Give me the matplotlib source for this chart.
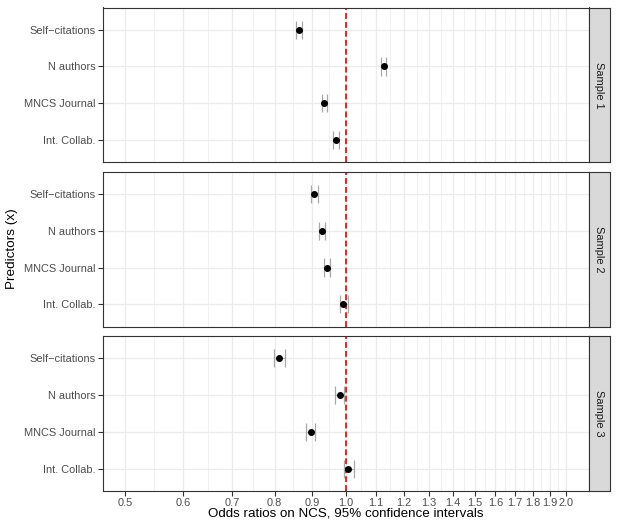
import matplotlib
matplotlib.use("Agg")
import matplotlib.pyplot as plt
import numpy as np
from matplotlib.ticker import NullFormatter

plt.rcParams["font.family"] = ["Liberation Sans", "DejaVu Sans"]

# ---- data (odds ratios with 95% CI) ----
predictors = ["Self\u2212citations", "N authors", "MNCS Journal", "Int. Collab."]
samples = ["Sample 1", "Sample 2", "Sample 3"]

or_s1 = [0.863, 1.126, 0.935, 0.970]
lo_s1 = [0.855, 1.117, 0.927, 0.962]
hi_s1 = [0.872, 1.136, 0.943, 0.980]

or_s2 = [0.906, 0.927, 0.943, 0.992]
lo_s2 = [0.897, 0.918, 0.933, 0.983]
hi_s2 = [0.916, 0.937, 0.952, 1.008]

or_s3 = [0.811, 0.981, 0.896, 1.008]
lo_s3 = [0.798, 0.967, 0.883, 0.993]
hi_s3 = [0.825, 0.995, 0.909, 1.025]

x_breaks = [0.5, 0.6, 0.7, 0.8, 0.9, 1.0, 1.1, 1.2, 1.3, 1.4, 1.5,
            1.6, 1.7, 1.8, 1.9, 2.0]
x_labels = ["0.5", "0.6", "0.7", "0.8", "0.9", "1.0", "1.1", "1.2", "1.3",
            "1.4", "1.5", "1.6", "1.7", "1.8", "1.9", "2.0"]

panels = [(or_s1, lo_s1, hi_s1), (or_s2, lo_s2, hi_s2), (or_s3, lo_s3, hi_s3)]

# ---- layout (pixels of a 617x529 canvas) ----
W, H = 617, 529
fig = plt.figure(figsize=(W / 100, H / 100), dpi=100)

px_left, px_right, px_strip = 103, 588.5, 610
panel_tops = [7.5, 171.7, 335.9]
panel_h = 154.8

# ggplot-like log scale: limits [0.5, 2] expanded by 5% in log space
span = np.log(2.0) - np.log(0.5)
xlim = (0.5 * np.exp(-0.05 * span), 2.0 * np.exp(0.05 * span))
minor_breaks = np.sqrt(np.array(x_breaks[:-1]) * np.array(x_breaks[1:]))

ypos = np.arange(len(predictors), 0, -1)  # top row first

grid_col = "#EBEBEB"
dark = "#333333"

for i, (est, lo, hi) in enumerate(panels):
    bottom = 1 - (panel_tops[i] + panel_h) / H
    ax = fig.add_axes([px_left / W, bottom, (px_right - px_left) / W, panel_h / H])
    ax.set_xscale("log")
    ax.set_xlim(*xlim)
    ax.set_ylim(0.4, len(predictors) + 0.6)

    ax.set_xticks(x_breaks)
    ax.set_xticks(minor_breaks, minor=True)
    ax.xaxis.set_minor_formatter(NullFormatter())
    ax.tick_params(axis="x", which="minor", length=0)
    ax.grid(True, which="major", color=grid_col, lw=0.9)
    ax.grid(True, which="minor", axis="x", color=grid_col, lw=0.5)
    ax.set_axisbelow(True)

    ax.set_yticks(ypos)
    ax.set_yticklabels(predictors)
    ax.tick_params(axis="both", which="major", length=3.5, width=0.8,
                   color=dark, labelcolor="#4D4D4D", labelsize=7.9, pad=2)

    if i < len(panels) - 1:
        ax.tick_params(axis="x", which="major", length=0, labelbottom=False)
    else:
        ax.set_xticklabels(x_labels)

    ax.axvline(1.0, color="#EE2222", lw=1.4, ls=(0, (3, 1.6)), zorder=2)

    ax.hlines(ypos, lo, hi, color="#A8A8A8", lw=0.8, zorder=3)
    ax.vlines(lo, ypos - 0.245, ypos + 0.245, color="#A8A8A8", lw=0.9, zorder=3)
    ax.vlines(hi, ypos - 0.245, ypos + 0.245, color="#A8A8A8", lw=0.9, zorder=3)
    ax.plot(est, ypos, "o", color="black", ms=4.0, zorder=4)

    for s in ax.spines.values():
        s.set_color(dark)
        s.set_linewidth(0.8)

    # facet strip on the right
    sax = fig.add_axes([px_right / W, bottom, (px_strip - px_right) / W, panel_h / H])
    sax.set_facecolor("#D9D9D9")
    sax.set_xticks([])
    sax.set_yticks([])
    for s in sax.spines.values():
        s.set_color(dark)
        s.set_linewidth(0.8)
    sax.text(0.5, 0.5, samples[i], rotation=-90, ha="center", va="center",
             fontsize=7.9, color="#1A1A1A", transform=sax.transAxes)

fig.text(12 / W, 1 - 249 / H, "Predictors (x)", rotation=90,
         ha="center", va="center", fontsize=9.7, color="black")
fig.text((px_left + px_right) / 2 / W, 1 - 514 / H,
         "Odds ratios on NCS, 95% confidence intervals",
         ha="center", va="center", fontsize=9.6, color="black")

fig.savefig("out.png", dpi=100)
